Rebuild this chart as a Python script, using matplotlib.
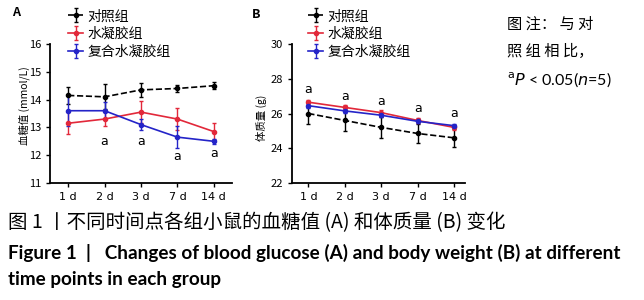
import numpy as np
import matplotlib
matplotlib.use('Agg')
import matplotlib.pyplot as plt

plt.rcParams['font.family'] = ['Noto Sans CJK SC', 'DejaVu Sans']

##===================================================================
# Data
##===================================================================
days = ['1 d', '2 d', '3 d', '7 d', '14 d']
groups = ['对照组', '水凝胶组', '复合水凝胶组']

# A: blood glucose (mmol/L)
glu_ctrl = [14.15, 14.1, 14.35, 14.4, 14.5]
glu_ctrl_err = [0.3, 0.45, 0.25, 0.12, 0.12]
glu_gel = [13.15, 13.3, 13.55, 13.3, 12.85]
glu_gel_err = [0.4, 0.25, 0.4, 0.4, 0.3]
glu_comp = [13.6, 13.6, 13.1, 12.65, 12.5]
glu_comp_err = [0.55, 0.3, 0.2, 0.4, 0.1]
glu_sig_y = [None, 12.5, 12.5, 11.95, 12.05]

# B: body weight (g)
bw_ctrl = [26.0, 25.6, 25.2, 24.85, 24.6]
bw_ctrl_err = [0.6, 0.6, 0.6, 0.55, 0.5]
bw_gel = [26.65, 26.35, 26.05, 25.6, 25.2]
bw_gel_err = [0.15, 0.15, 0.15, 0.15, 0.15]
bw_comp = [26.45, 26.15, 25.9, 25.55, 25.3]
bw_comp_err = [0.12, 0.12, 0.12, 0.12, 0.12]
bw_sig_y = [27.4, 27.0, 26.7, 26.3, 26.0]

colors = ['black', '#e2283a', '#2424c8']
styles = ['--', '-', '-']

fig = plt.figure(figsize=(6.44, 3.0), dpi=100)
axA = fig.add_axes([50/644, 1-183/300, (232-50)/644, (183-44)/300])
axB = fig.add_axes([292/644, 1-183/300, (465-292)/644, (183-44)/300])

x = np.arange(len(days))


def draw_panel(ax, series, errs, sig_y, ylim, yticks, ylabel, xlim, leg_x, lab_xy):
    for i in range(3):
        ax.errorbar(x, series[i], yerr=errs[i], color=colors[i], ls=styles[i],
                    lw=1.2, marker='o', ms=3, capsize=1.5, elinewidth=1,
                    label=groups[i])
    for xi, yi in zip(x, sig_y):
        if yi is not None:
            ax.text(xi, yi, 'a', ha='center', va='center', fontsize=9,
                    family='DejaVu Sans')
    ax.set_ylim(*ylim)
    ax.set_yticks(yticks)
    ax.set_xlim(*xlim)
    ax.set_xticks(x)
    ax.set_xticklabels(days, family='DejaVu Sans')
    ax.tick_params(labelsize=8, width=1, length=3)
    for s in ['top', 'right']:
        ax.spines[s].set_visible(False)
    for s in ['left', 'bottom']:
        ax.spines[s].set_linewidth(1.3)
    ax.set_ylabel(ylabel, fontsize=7.5)
    ax.yaxis.set_label_coords(*lab_xy)
    ax.legend(loc='upper left', bbox_to_anchor=(leg_x, 1.25), frameon=False,
              fontsize=10, handlelength=1.1, handletextpad=0.3,
              labelspacing=0.27, borderaxespad=0, borderpad=0)


draw_panel(axA, [glu_ctrl, glu_gel, glu_comp],
           [glu_ctrl_err, glu_gel_err, glu_comp_err], glu_sig_y,
           (11, 16), [11, 12, 13, 14, 15, 16], '血糖值 (mmol/L)', (-0.5, 4.5),
           0.099, (-0.11, 0.56))
draw_panel(axB, [bw_ctrl, bw_gel, bw_comp],
           [bw_ctrl_err, bw_gel_err, bw_comp_err], bw_sig_y,
           (22, 30), [22, 24, 26, 28, 30], '体质量 (g)', (-0.45, 4.3),
           0.092, (-0.145, 0.47))

fig.text(12/644, 1-13/300, 'A', fontsize=9, weight='bold', va='center')
fig.text(252/644, 1-14/300, 'B', fontsize=9, weight='bold', va='center')

# note on the right
fig.text(507/644, 1-24/300, '图 注： 与 对', fontsize=11, va='center')
fig.text(507/644, 1-51/300, '照 组 相 比，', fontsize=11, va='center')
fig.text(507/644, 1-80/300, r'$^{\mathrm{a}}$$\it{P}$ < 0.05($\it{n}$=5)', fontsize=11.5,
         va='center', family='Lato')

# caption
fig.text(8/644, 1-223/300, '图 1 丨不同时间点各组小鼠的血糖值 (A) 和体质量 (B) 变化',
         fontsize=14, va='center')
fig.text(8/644, 1-253/300,
         'Figure 1  |   Changes of blood glucose (A) and body weight (B) at different',
         fontsize=13.6, va='center', weight='bold', family='Lato')
fig.text(8/644, 1-279/300, 'time points in each group',
         fontsize=13.6, va='center', weight='bold', family='Lato')

plt.savefig('out.png', dpi=100)
